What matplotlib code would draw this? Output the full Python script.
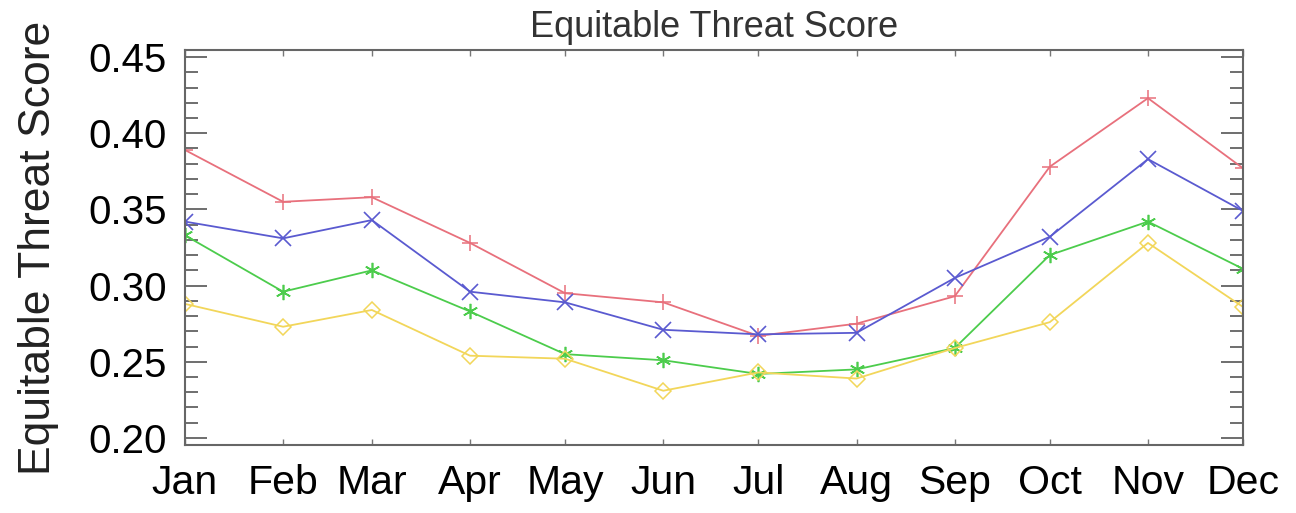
import matplotlib
matplotlib.use('Agg')
import matplotlib.pyplot as plt
from matplotlib.ticker import MultipleLocator

plt.rcParams['font.family'] = ['Liberation Sans', 'DejaVu Sans']

# x positions: day of year at the start of each month
months = ['Jan', 'Feb', 'Mar', 'Apr', 'May', 'Jun', 'Jul', 'Aug', 'Sep', 'Oct', 'Nov', 'Dec']
month_day = [0, 31, 59, 90, 120, 151, 181, 212, 243, 273, 304, 334]

ets_red = [0.389, 0.355, 0.358, 0.328, 0.295, 0.289, 0.267, 0.275, 0.293, 0.378, 0.423, 0.377]
ets_blue = [0.342, 0.331, 0.343, 0.296, 0.289, 0.271, 0.268, 0.269, 0.305, 0.332, 0.383, 0.349]
ets_green = [0.333, 0.296, 0.310, 0.283, 0.255, 0.251, 0.242, 0.245, 0.259, 0.320, 0.342, 0.311]
ets_yellow = [0.288, 0.273, 0.284, 0.254, 0.252, 0.231, 0.243, 0.239, 0.259, 0.276, 0.328, 0.286]

fig = plt.figure(figsize=(12.96, 5.13), dpi=100)
ax = fig.add_axes([0.1427, 0.1326, 0.8164, 0.7699])

ax.plot(month_day, ets_red, color='#e8707c', lw=1.3, marker='+', ms=11, mew=1.1)
ax.plot(month_day, ets_blue, color='#5a5ad0', lw=1.3, marker='x', ms=11, mew=1.2)
ax.plot(month_day, ets_green, color='#4ccc4c', lw=1.3, marker=(6, 2, 0), ms=11, mew=1.2)
ax.plot(month_day, ets_yellow, color='#f2d65a', lw=1.3, marker='D', ms=8, mew=1.1,
        mfc='none')

ax.set_xlim(0, 334)
ax.set_ylim(0.1954, 0.4546)

ax.set_xticks(month_day)
ax.set_xticklabels(months)
ax.yaxis.set_major_locator(MultipleLocator(0.05))
ax.yaxis.set_minor_locator(MultipleLocator(0.01))
ax.yaxis.set_major_formatter(matplotlib.ticker.FormatStrFormatter('%.2f'))

ax.tick_params(axis='y', which='major', direction='in', length=15.8, width=1.2,
               left=True, right=True, labelsize=29, pad=13, color='#555555')
ax.tick_params(axis='y', which='minor', direction='in', length=9.4, width=1.2,
               left=True, right=True, color='#555555')
ax.tick_params(axis='x', which='major', direction='in', length=4.5, width=1.0,
               top=True, bottom=True, labelsize=29.5, pad=13.5, color='#777777')

for s in ax.spines.values():
    s.set_color('#666666')
    s.set_linewidth(1.5)

ax.set_title('Equitable Threat Score', fontsize=26, color='#333333', pad=9.5)
ax.set_ylabel('Equitable Threat Score', fontsize=32, color='#222222')
ax.yaxis.set_label_coords(-0.119, 0.5)

fig.savefig('out.png', dpi=100, facecolor='white')
